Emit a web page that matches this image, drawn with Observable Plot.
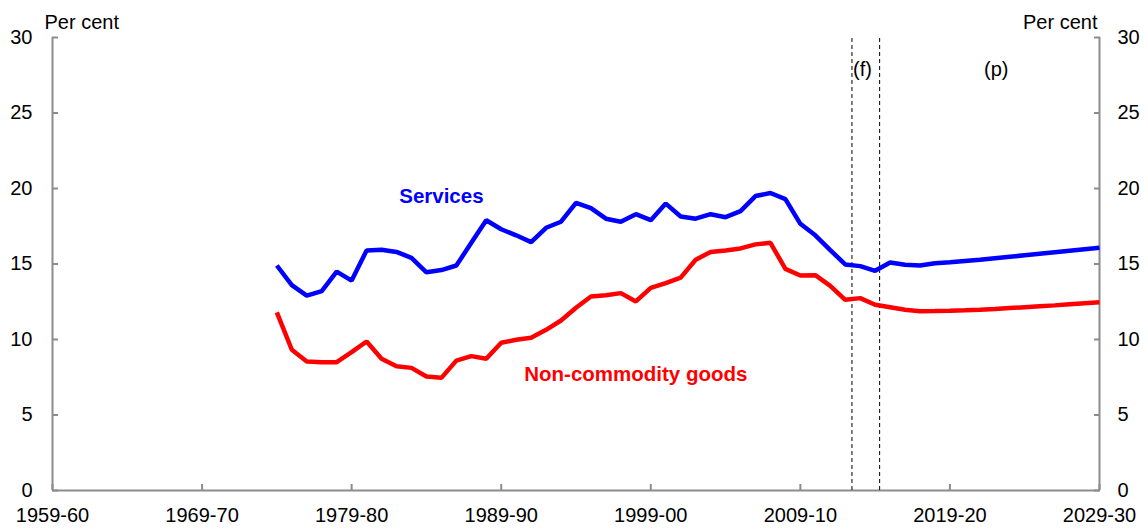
<!DOCTYPE html>
<html>
<head>
<meta charset="utf-8">
<script src="https://cdn.jsdelivr.net/npm/d3@7"></script>
<script src="https://cdn.jsdelivr.net/npm/@observablehq/plot@0.6"></script>
<style>
  html, body { margin: 0; padding: 0; background: #fff; }
  #chart { width: 1148px; height: 530px; }
</style>
</head>
<body>
<div id="chart"></div>
<script>
// Financial year ending (e.g. 1975 = 1974-75)
const years = d3.range(1975, 2031);

const services = [
  14.9, 13.6, 12.9, 13.2, 14.5, 13.9, 15.9, 15.95, 15.8, 15.4,
  14.45, 14.6, 14.9, 16.4, 17.9, 17.3, 16.9, 16.45, 17.4, 17.8,
  19.05, 18.7, 18.0, 17.8, 18.3, 17.9, 19.0, 18.15, 18.0, 18.3,
  18.1, 18.5, 19.5, 19.7, 19.3, 17.66, 16.9, 15.92, 14.97, 14.86,
  14.55, 15.1, 14.95, 14.9, 15.05, 15.12, 15.2, 15.28, 15.38, 15.48,
  15.58, 15.68, 15.78, 15.88, 15.98, 16.07
];

const nonCommodityGoods = [
  11.8, 9.32, 8.54, 8.5, 8.5, 9.16, 9.87, 8.72, 8.23, 8.12,
  7.55, 7.46, 8.6, 8.9, 8.72, 9.78, 9.98, 10.12, 10.64, 11.26,
  12.1, 12.85, 12.93, 13.07, 12.52, 13.42, 13.73, 14.1, 15.28, 15.8,
  15.9, 16.03, 16.3, 16.4, 14.68, 14.24, 14.26, 13.55, 12.63, 12.74,
  12.3, 12.14, 11.97, 11.87, 11.88, 11.9, 11.93, 11.97, 12.02, 12.08,
  12.14, 12.2, 12.26, 12.33, 12.4, 12.47
];

const seriesNames = ["Services", "Non-commodity goods"];
const seriesColors = ["#0000ff", "#ff0000"];

const xTickYears = [1960, 1970, 1980, 1990, 2000, 2010, 2020, 2030];
const xTickLabels = ["1959-60", "1969-70", "1979-80", "1989-90", "1999-00", "2009-10", "2019-20", "2029-30"];
const yTicks = [0, 5, 10, 15, 20, 25, 30];

// Forecast / projection boundaries and period labels
const periodBounds = [2013.45, 2015.3];
const periodLabels = [
  {text: "(f)", x: 2014.15, y: 27.9},
  {text: "(p)", x: 2023.1, y: 27.9}
];
const seriesLabels = [
  {text: "Services", x: 1986.0, y: 19.5, color: "#0000ff"},
  {text: "Non-commodity goods", x: 1999.0, y: 7.7, color: "#ff0000"}
];

const rows = [];
years.forEach((yr, i) => {
  rows.push({year: yr, value: services[i], series: seriesNames[0]});
});
years.forEach((yr, i) => {
  rows.push({year: yr, value: nonCommodityGoods[i], series: seriesNames[1]});
});

const axisGray = "#8c8c8c";

const chart = Plot.plot({
  width: 1148,
  height: 530,
  marginLeft: 52,
  marginRight: 49,
  marginTop: 37,
  marginBottom: 40,
  style: {
    fontFamily: "'Liberation Sans', Arial, sans-serif",
    fontSize: "20px",
    color: "#000",
    background: "#fff",
    overflow: "visible"
  },
  x: {domain: [1960, 2030]},
  y: {domain: [0, 30]},
  color: {domain: seriesNames, range: seriesColors},
  marks: [
    // axis frame lines
    Plot.ruleY([0], {stroke: axisGray, strokeWidth: 2}),
    Plot.ruleX([1960, 2030], {stroke: axisGray, strokeWidth: 2}),
    Plot.axisY({
      anchor: "left", ticks: yTicks, tickSize: -6, tickPadding: 26,
      stroke: axisGray, strokeWidth: 2, label: null, tickFormat: d => String(d)
    }),
    Plot.axisY({
      anchor: "right", ticks: yTicks, tickSize: -6, tickPadding: 24,
      stroke: axisGray, strokeWidth: 2, label: null, tickFormat: d => String(d)
    }),
    Plot.axisX({
      anchor: "bottom", ticks: xTickYears, tickSize: -6, tickPadding: 23,
      stroke: axisGray, strokeWidth: 2, label: null,
      tickFormat: d => xTickLabels[xTickYears.indexOf(d)]
    }),
    // forecast / projection boundaries
    Plot.ruleX(periodBounds, {y1: 0, y2: 30, stroke: "#000", strokeWidth: 1, strokeDasharray: "4,3"}),
    Plot.text(periodLabels, {x: "x", y: "y", text: "text", fill: "#000", fontSize: 20}),
    // series
    Plot.line(rows, {x: "year", y: "value", z: "series", stroke: "series", strokeWidth: 4.5, strokeLinejoin: "miter", strokeLinecap: "butt"}),
    Plot.text(seriesLabels, {x: "x", y: "y", text: "text", fill: d => d.color, fontWeight: "bold", fontSize: 20.5}),
    // unit labels
    Plot.text(["Per cent"], {frameAnchor: "top-left", text: d => d, textAnchor: "start", lineAnchor: "bottom", dx: -8, dy: -9, fontSize: 20}),
    Plot.text(["Per cent"], {frameAnchor: "top-right", text: d => d, textAnchor: "end", lineAnchor: "bottom", dx: -2, dy: -9, fontSize: 20})
  ]
});

document.getElementById("chart").appendChild(chart);
</script>
</body>
</html>
